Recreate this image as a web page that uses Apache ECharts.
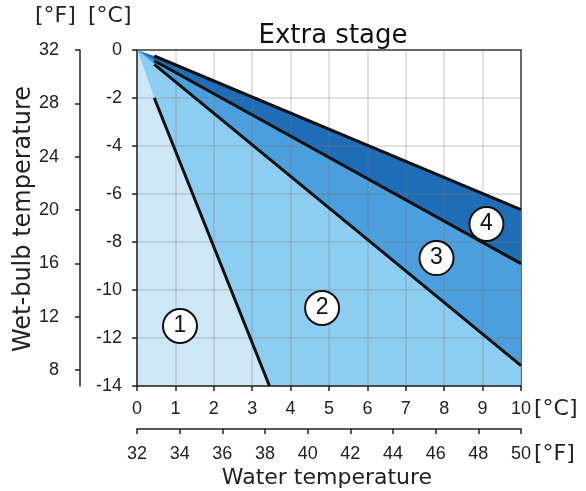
<!DOCTYPE html>
<html>
<head>
<meta charset="utf-8">
<script src="https://cdn.jsdelivr.net/npm/echarts@6/dist/echarts.min.js"></script>
<style>
html,body{margin:0;padding:0;background:#fff;}
#chart{width:586px;height:491px;}
</style>
</head>
<body>
<div id="chart"></div>
<script>
// zones (water °C, wet-bulb °C)
var zone1 = [[0,0],[0.45,-2],[3.45,-14],[0,-14]];
var zone2 = [[0,0],[0.45,-0.6],[10,-13.15],[10,-14],[3.45,-14],[0.45,-2]];
var zone3 = [[0,0],[0.45,-0.45],[10,-8.9],[10,-13.15],[0.45,-0.6]];
var zone4 = [[0,0],[0.45,-0.25],[10,-6.65],[10,-8.9],[0.45,-0.45]];
// boundary lines
var line1 = [[0.45,-2],[3.45,-14]];
var line2 = [[0.45,-0.6],[10,-13.15]];
var line3 = [[0.45,-0.45],[10,-8.9]];
var line4 = [[0.45,-0.25],[10,-6.65]];
// zone numbers
var markers = [[1.12,-11.5,'1'],[4.82,-10.75,'2'],[7.8,-8.67,'3'],[9.1,-7.25,'4']];
// fahrenheit tick labels
var fYTicks = [8,12,16,20,24,28,32];

var zoneColors = ['#cde7f7','#8ecdf2','#4b9fdd','#1f6db7'];
var zones = [zone1,zone2,zone3,zone4];

var lblFont = 'Liberation Sans, Arial, sans-serif';
var txtFont = 'DejaVu Sans, Verdana, sans-serif';
var gridCol = 'rgba(120,120,120,0.28)';

//区域多边形
function zoneSeries(pts,color){
	return {
		type:'custom',
		xAxisIndex:0,
		yAxisIndex:0,
		z:1,
		silent:true,
		data:[0],
		renderItem:function(params,api){
			var p = [];
			for(var i=0;i<pts.length;i++){
				p.push(api.coord(pts[i]));
			}
			return {type:'polygon',shape:{points:p},style:{fill:color}};
		}
	};
}

function lineSeries(d){
	return {
		type:'line',
		xAxisIndex:0,
		yAxisIndex:0,
		z:5,
		data:d,
		showSymbol:false,
		silent:true,
		lineStyle:{color:'#111',width:3}
	};
}

var series = [];
for(var i=0;i<zones.length;i++){
	series.push(zoneSeries(zones[i],zoneColors[i]));
}
series.push(lineSeries(line1));
series.push(lineSeries(line2));
series.push(lineSeries(line3));
series.push(lineSeries(line4));
series.push({
	type:'scatter',
	xAxisIndex:0,
	yAxisIndex:0,
	z:6,
	data:markers,
	symbol:'circle',
	symbolSize:34,
	itemStyle:{color:'#fff',borderColor:'#111',borderWidth:2,opacity:1},
	label:{show:true,position:'inside',formatter:function(p){return p.value[2];},
		color:'#111',fontSize:23,fontFamily:lblFont}
});

var axLine = {show:true,onZero:false,lineStyle:{color:'#222',width:1.5}};
var axTick = {show:true,length:5,lineStyle:{color:'#222',width:1.5}};

var myChart = echarts.init(document.getElementById('chart'));
var option = {
	animation:false,
	title:{
		text:'Extra stage',
		left:328,
		top:18,
		textAlign:'center',
		textStyle:{fontSize:26,fontWeight:'normal',color:'#111',fontFamily:txtFont}
	},
	grid:{left:137,top:50,right:65,bottom:105},
	xAxis:[
		{
			type:'value',min:0,max:10,interval:1,position:'bottom',
			axisLine:axLine,axisTick:axTick,
			axisLabel:{margin:14,fontSize:18,color:'#222',fontFamily:lblFont},
			splitLine:{show:true,lineStyle:{color:gridCol,width:1.5}},
			z:3
		},
		{
			type:'value',min:32,max:50,interval:2,position:'bottom',offset:43,
			axisLine:axLine,axisTick:axTick,
			axisLabel:{margin:16,fontSize:18,color:'#222',fontFamily:lblFont},
			splitLine:{show:false}
		},
		{
			type:'value',min:0,max:10,position:'top',
			axisLine:{show:true,onZero:false,lineStyle:{color:'#333',width:1.5}},
			axisTick:{show:false},axisLabel:{show:false},splitLine:{show:false}
		}
	],
	yAxis:[
		{
			type:'value',min:-14,max:0,interval:2,position:'left',
			axisLine:axLine,axisTick:axTick,
			axisLabel:{margin:15,fontSize:18,color:'#222',fontFamily:lblFont},
			splitLine:{show:true,lineStyle:{color:gridCol,width:1.5}},
			z:3
		},
		{
			type:'value',min:6.8,max:32,position:'left',offset:57,
			axisLine:axLine,
			axisTick:{show:true,length:5,customValues:fYTicks,lineStyle:{color:'#222',width:1.5}},
			axisLabel:{margin:21,fontSize:18,color:'#222',fontFamily:lblFont,customValues:fYTicks},
			splitLine:{show:false}
		},
		{
			type:'value',min:-14,max:0,position:'right',
			axisLine:{show:true,onZero:false,lineStyle:{color:'#333',width:1.5}},
			axisTick:{show:false},axisLabel:{show:false},splitLine:{show:false}
		}
	],
	graphic:[
		{type:'text',left:35,top:5,style:{text:'[°F]',fontSize:22,fill:'#222',fontFamily:txtFont}},
		{type:'text',left:88,top:5,style:{text:'[°C]',fontSize:22,fill:'#222',fontFamily:txtFont}},
		{type:'text',left:534,top:398,style:{text:'[°C]',fontSize:22,fill:'#222',fontFamily:txtFont}},
		{type:'text',left:534,top:443,style:{text:'[°F]',fontSize:22,fill:'#222',fontFamily:txtFont}},
		{type:'text',x:327,y:478,style:{text:'Water temperature',fontSize:22,fill:'#222',fontFamily:txtFont,
			textAlign:'center',textVerticalAlign:'middle'}},
		{type:'text',x:24,y:219,rotation:Math.PI/2,
			style:{text:'Wet-bulb temperature',fontSize:24,fill:'#222',fontFamily:txtFont,
				textAlign:'center',textVerticalAlign:'middle'}}
	],
	series:series
};
myChart.setOption(option);
</script>
</body>
</html>
